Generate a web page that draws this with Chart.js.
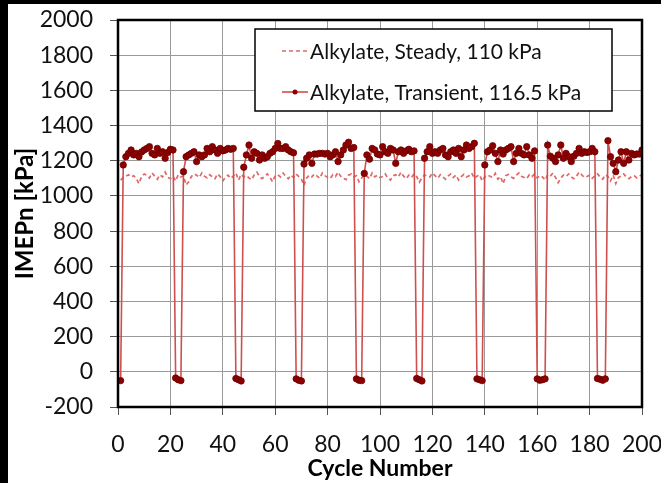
<!DOCTYPE html>
<html>
<head>
<meta charset="utf-8">
<script src="https://cdn.jsdelivr.net/npm/chart.js@4/dist/chart.umd.min.js"></script>
<style>
  html, body { margin: 0; padding: 0; background: #000; }
  #wrap { position: absolute; left: 0; top: 0; width: 661px; height: 483px; }
  #frame { position: absolute; left: 8px; top: 4px; width: 653px; height: 479px; background: #fff; }
  canvas { position: absolute; left: 0; top: 0; }
</style>
</head>
<body>
<div id="wrap">
  <div id="frame"></div>
  <canvas id="c" width="661" height="483"></canvas>
</div>
<script>
// Engine cycles 1..200
const cycles = Array.from({ length: 200 }, (_, i) => i + 1);

// Net IMEP per cycle [kPa], steady operation at 110 kPa intake
const steadyIMEP = [
  1090, 1105, 1112, 1120, 1108, 1115, 1098, 1070, 1110, 1125, 1118, 1102, 1130, 1112, 1095, 1120, 1108, 1135, 1105, 1098,
  1112, 1085, 1120, 1108, 1115, 1062, 1080, 1110, 1125, 1118, 1105, 1130, 1112, 1102, 1120, 1108, 1098, 1125, 1110, 1085,
  1105, 1118, 1100, 1112, 1130, 1090, 1122, 1108, 1115, 1102, 1092, 1120, 1135, 1110, 1098, 1112, 1125, 1105, 1080, 1115,
  1120, 1108, 1130, 1112, 1098, 1118, 1105, 1125, 1110, 1095, 1060, 1102, 1118, 1108, 1125, 1112, 1100, 1130, 1115, 1105,
  1098, 1120, 1110, 1135, 1112, 1100, 1092, 1118, 1125, 1108, 1115, 1080, 1102, 1120, 1112, 1098, 1130, 1108, 1118, 1105,
  1110, 1125, 1100, 1090, 1115, 1120, 1108, 1135, 1112, 1098, 1118, 1105, 1125, 1110, 1078, 1102, 1120, 1112, 1108, 1130,
  1115, 1100, 1120, 1108, 1095, 1112, 1125, 1105, 1118, 1090, 1110, 1122, 1108, 1115, 1130, 1100, 1112, 1120, 1085, 1108,
  1118, 1112, 1105, 1128, 1095, 1110, 1070, 1115, 1122, 1108, 1100, 1118, 1130, 1112, 1105, 1098, 1120, 1110, 1125, 1102,
  1115, 1108, 1090, 1120, 1112, 1130, 1105, 1075, 1100, 1118, 1110, 1125, 1108, 1098, 1112, 1135, 1120, 1105, 1110, 1118,
  1100, 1115, 1125, 1108, 1095, 1120, 1110, 1085, 1118, 1070, 1105, 1112, 1125, 1108, 1098, 1110, 1115, 1102, 1112, 1120
];

// Net IMEP per cycle [kPa], transient operation at 116.5 kPa intake (periodic skipped-fire cycles)
const transientIMEP = [
  -50,
  1176, 1223, 1242, 1261, 1233, 1242, 1223, 1250, 1261, 1270, 1280, 1242, 1233, 1270, 1242, 1251, 1214, 1247, 1265, 1261,
  -35, -45, -50,
  1138, 1223, 1233, 1242, 1251, 1195, 1233, 1223, 1233, 1270, 1251, 1280, 1261, 1242, 1270, 1256, 1261, 1270, 1265, 1270,
  -38, -45, -52,
  1163, 1233, 1289, 1214, 1251, 1242, 1204, 1233, 1214, 1223, 1242, 1251, 1270, 1298, 1270, 1270, 1280, 1261, 1251, 1245,
  -40, -48, -52,
  1181, 1214, 1233, 1185, 1238, 1238, 1242, 1242, 1238, 1242, 1223, 1233, 1251, 1195, 1233, 1261, 1289, 1305, 1270, 1275,
  -40, -48, -50,
  1128, 1233, 1209, 1270, 1261, 1238, 1233, 1280, 1251, 1242, 1270, 1261, 1185, 1251, 1261, 1242, 1256, 1265, 1251, 1256,
  -38, -45, -52,
  1214, 1251, 1280, 1242, 1251, 1242, 1261, 1270, 1233, 1223, 1251, 1261, 1242, 1270, 1223, 1261, 1289, 1270, 1280, 1299,
  -40, -45, -50,
  1176, 1251, 1261, 1285, 1242, 1195, 1261, 1238, 1261, 1270, 1280, 1195, 1242, 1270, 1242, 1233, 1280, 1233, 1214, 1256,
  -40, -48, -45, -40,
  1289, 1226, 1214, 1195, 1233, 1289, 1214, 1242, 1223, 1195, 1226, 1242, 1270, 1242, 1251, 1247, 1251, 1270, 1251,
  -38, -42, -48, -40,
  1314, 1223, 1185, 1138, 1204, 1251, 1185, 1251, 1204, 1242, 1233, 1238, 1238, 1261
];

const seriesLabels = ['Alkylate, Steady, 110 kPa', 'Alkylate, Transient, 116.5 kPa'];
const xTicks = [0, 20, 40, 60, 80, 100, 120, 140, 160, 180, 200];
const yTicks = [-200, 0, 200, 400, 600, 800, 1000, 1200, 1400, 1600, 1800, 2000];

const FONT = 'Lato, "Open Sans", sans-serif';

const toPoints = (vals) => vals.map((v, i) => ({ x: cycles[i], y: v }));

// Full black frame around the plot area
const plotFrame = {
  id: 'plotFrame',
  afterDatasetsDraw(chart) {
    const { ctx, chartArea: a } = chart;
    ctx.save();
    ctx.strokeStyle = '#000';
    ctx.lineWidth = 2.5;
    ctx.strokeRect(a.left, a.top, a.right - a.left, a.bottom - a.top);
    ctx.restore();
  }
};

// Boxed legend placed inside the plot, top right
const boxLegend = {
  id: 'boxLegend',
  afterDraw(chart) {
    const { ctx } = chart;
    const bx = 255, by = 29, bw = 357, bh = 82;
    ctx.save();
    ctx.fillStyle = '#fff';
    ctx.fillRect(bx, by, bw, bh);
    ctx.strokeStyle = '#000';
    ctx.lineWidth = 1.5;
    ctx.strokeRect(bx, by, bw, bh);
    ctx.font = '21px ' + FONT;
    ctx.textBaseline = 'middle';
    const rows = [51, 92];
    chart.data.datasets.forEach((ds, i) => {
      const y = rows[i];
      ctx.strokeStyle = ds.borderColor;
      ctx.lineWidth = ds.borderWidth;
      ctx.setLineDash(ds.borderDash || []);
      ctx.beginPath();
      ctx.moveTo(282, y);
      ctx.lineTo(308, y);
      ctx.stroke();
      ctx.setLineDash([]);
      if (ds.pointRadius > 0) {
        ctx.fillStyle = ds.pointBackgroundColor;
        ctx.beginPath();
        ctx.arc(295, y, 2.5, 0, Math.PI * 2);
        ctx.fill();
      }
      ctx.fillStyle = '#111';
      ctx.fillText(ds.label, 310, y + 1);
    });
    ctx.restore();
  }
};

new Chart(document.getElementById('c'), {
  type: 'line',
  data: {
    datasets: [
      {
        label: seriesLabels[0],
        data: toPoints(steadyIMEP),
        borderColor: '#e06868',
        borderWidth: 1.7,
        borderDash: [4, 3],
        pointRadius: 0,
        tension: 0,
        order: 2
      },
      {
        label: seriesLabels[1],
        data: toPoints(transientIMEP),
        borderColor: '#cf4f4f',
        borderWidth: 1.6,
        pointRadius: 3.2,
        pointBackgroundColor: '#8e0000',
        pointBorderColor: '#6a0000',
        pointBorderWidth: 0.8,
        tension: 0,
        order: 1
      }
    ]
  },
  options: {
    responsive: false,
    animation: false,
    devicePixelRatio: 1,
    layout: { padding: { left: 8, top: 20, right: 19, bottom: 0 } },
    plugins: { legend: { display: false }, tooltip: { enabled: false } },
    scales: {
      x: {
        type: 'linear',
        min: 0,
        max: 200,
        afterBuildTicks: (s) => { s.ticks = xTicks.map(v => ({ value: v })); },
        afterFit: (s) => { s.height = 76; s.paddingLeft = 0; s.paddingRight = 0; },
        ticks: { color: '#111', font: { family: FONT, size: 23 }, padding: 16, maxRotation: 0, callback: (v) => String(v) },
        grid: { color: '#9a9a9a', lineWidth: 1, borderDash: [2, 2], tickLength: 8, tickColor: '#555', tickBorderDash: [] },
        border: { display: false },
        title: { display: true, text: 'Cycle Number', color: '#000', font: { family: FONT, size: 23, weight: 'bold' }, padding: { top: 0, bottom: 1 } }
      },
      y: {
        type: 'linear',
        min: -200,
        max: 2000,
        afterBuildTicks: (s) => { s.ticks = yTicks.map(v => ({ value: v })); },
        afterFit: (s) => { s.width = 110; s.paddingTop = 0; s.paddingBottom = 0; },
        ticks: { color: '#111', font: { family: FONT, size: 23 }, padding: 17, callback: (v) => String(v) },
        grid: { color: '#9a9a9a', lineWidth: 1, borderDash: [2, 2], tickLength: 8, tickColor: '#555', tickBorderDash: [] },
        border: { display: false },
        title: { display: true, text: 'IMEPn [kPa]', color: '#000', font: { family: FONT, size: 24, weight: 'bold' }, padding: { top: 3, bottom: 0 } }
      }
    }
  },
  plugins: [plotFrame, boxLegend]
});
</script>
</body>
</html>
